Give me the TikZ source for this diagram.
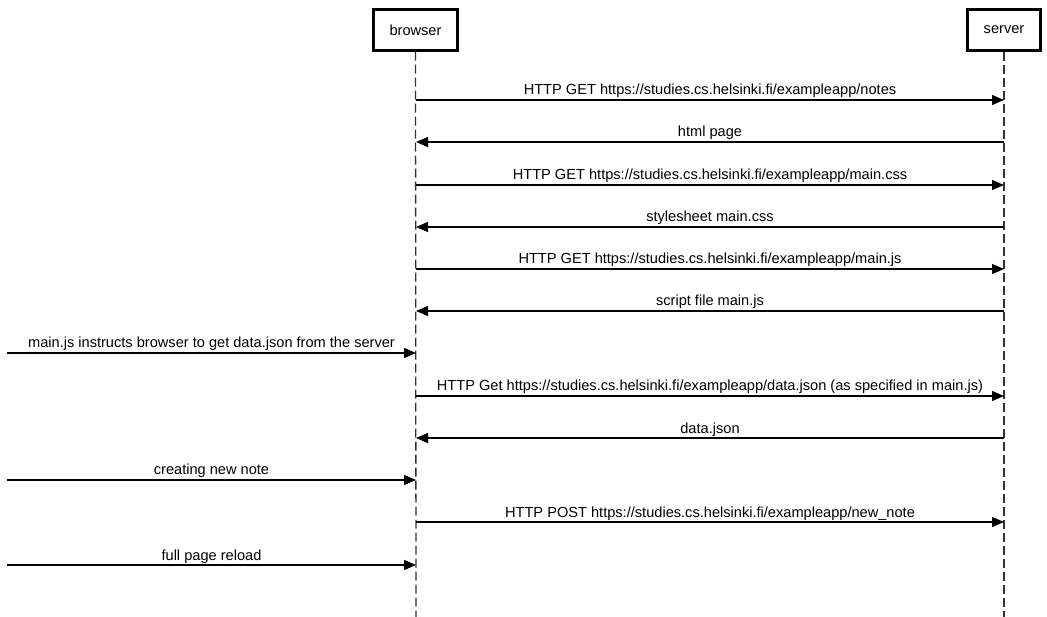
\documentclass[tikz,border=0pt]{standalone}
\usepackage{fontspec}
\setmainfont{Liberation Sans}
\usetikzlibrary{arrows.meta}
% one message: #1 row y, #2 start x, #3 end x, #4 label
\newcommand\seqmsg[4]{%
  \coordinate (s#1) at (#2,#1);
  \coordinate (e#1) at (#3,#1);
  \draw[message] (s#1) -- node[lbl] {#4} (e#1);}
\begin{document}
\begin{tikzpicture}[x=1pt,y=-1pt,
  actor/.style={draw,line width=2.4pt,minimum height=41pt,inner sep=0pt,
    font=\fontsize{14.6}{17}\selectfont},
  lifeline/.style={draw=black!80,line width=1.3pt,dash pattern=on 9pt off 4pt},
  message/.style={draw,line width=1.2pt,-{Triangle[length=12pt,width=10pt]}},
  lbl/.style={midway,anchor=base,yshift=5pt,inner sep=0pt,
    font=\fontsize{14.6}{17}\selectfont}]
\useasboundingbox (0,0) rectangle (1047,617);

% participants
\node[actor,minimum width=84pt] (browser) at (415.5,30) {browser};
\node[actor,minimum width=73pt] (server) at (1004,30) {server};

% lifelines
\coordinate (browserEnd) at (416,617);
\coordinate (serverEnd) at (1004,617);
\draw[lifeline] (browser.south) -- (browserEnd);
\draw[lifeline] (server.south) -- (serverEnd);

% messages
\seqmsg{100}{416}{1004}{HTTP GET https://studies.cs.helsinki.fi/exampleapp/notes}
\seqmsg{142}{1004}{416}{html page}
\seqmsg{185}{416}{1004}{HTTP GET https://studies.cs.helsinki.fi/exampleapp/main.css}
\seqmsg{227}{1004}{416}{stylesheet main.css}
\seqmsg{269}{416}{1004}{HTTP GET https://studies.cs.helsinki.fi/exampleapp/main.js}
\seqmsg{311}{1004}{416}{script file main.js}
\seqmsg{353}{7}{416}{main.js instructs browser to get data.json from the server}
\seqmsg{396}{416}{1004}{HTTP Get https://studies.cs.helsinki.fi/exampleapp/data.json (as specified in main.js)}
\seqmsg{438}{1004}{416}{data.json}
\seqmsg{480}{7}{416}{creating new note}
\seqmsg{522}{416}{1004}{HTTP POST https://studies.cs.helsinki.fi/exampleapp/new\_note}
\seqmsg{565}{7}{416}{full page reload}
\end{tikzpicture}
\end{document}
